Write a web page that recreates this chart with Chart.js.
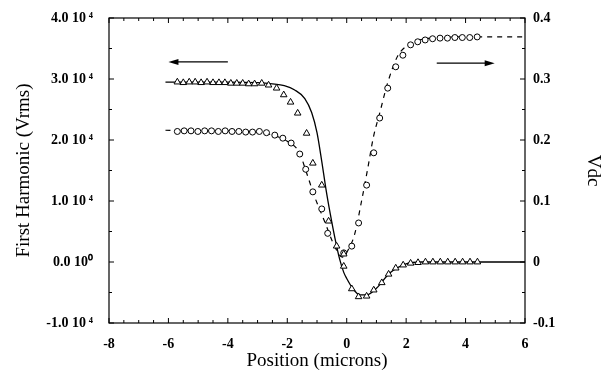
<!DOCTYPE html>
<html>
<head>
<meta charset="utf-8">
<script src="https://cdn.jsdelivr.net/npm/chart.js@4.4.1/dist/chart.umd.min.js"></script>
<style>
    html, body { margin: 0; padding: 0; background: #fff; }
    canvas { display: block; }
</style>
</head>
<body>
<canvas id="chart" width="604" height="385"></canvas>
<script>
/* ========================================
   First harmonic / Vdc vs. position
   ======================================== */

// Measured first harmonic (triangles), Vrms
const triX = [-5.7, -5.5, -5.3, -5.1, -4.9, -4.7, -4.5, -4.3, -4.1, -3.9, -3.7, -3.5, -3.3, -3.1,
    -2.86, -2.63, -2.36, -2.12, -1.89, -1.65, -1.35, -1.14,
    -0.84, -0.61, -0.34, -0.1, -0.1,
    0.17, 0.4, 0.67, 0.91, 1.18, 1.41, 1.65, 1.9, 2.15,
    2.4, 2.65, 2.9, 3.15, 3.4, 3.65, 3.9, 4.15, 4.4];
const triY = [29500, 29400, 29500, 29500, 29400, 29500, 29400, 29400, 29400, 29300, 29300, 29300, 29200, 29200,
    29300, 29000, 28500, 27400, 26200, 24400, 21100, 16200,
    12600, 6700, 2600, 1300, -700,
    -4400, -5700, -5600, -4600, -3400, -2000, -1000, -500, -200,
    -100, 0, 0, 0, 0, 0, 0, 0, 0];

// Measured Vdc (circles), V
const circX = [-5.7, -5.47, -5.24, -5.01, -4.78, -4.55, -4.32, -4.09, -3.86, -3.63, -3.4, -3.17, -2.94,
    -2.7, -2.42, -2.15, -1.87, -1.58, -1.38, -1.14, -0.84, -0.64, -0.1,
    0.17, 0.4, 0.67, 0.91, 1.11, 1.38, 1.65, 1.89, 2.15,
    2.39, 2.64, 2.89, 3.14, 3.39, 3.64, 3.89, 4.14, 4.39];
const circY = [0.214, 0.215, 0.215, 0.214, 0.215, 0.215, 0.214, 0.215, 0.214, 0.214, 0.213, 0.213, 0.214,
    0.212, 0.208, 0.203, 0.195, 0.177, 0.152, 0.115, 0.087, 0.047, 0.015,
    0.026, 0.064, 0.126, 0.179, 0.236, 0.285, 0.320, 0.339, 0.356,
    0.361, 0.364, 0.366, 0.367, 0.367, 0.368, 0.368, 0.368, 0.369];

// Model curve for first harmonic (solid)
const fitHX = [-6.1, -4.0, -3.0, -2.5, -2.1, -1.75, -1.41, -1.18, -1.0, -0.84, -0.7, -0.55, -0.4, -0.24,
    -0.1, 0.0, 0.2, 0.44, 0.67, 1.0, 1.45, 2.0, 2.5, 3.5, 6.0];
const fitHY = [29500, 29500, 29400, 29200, 28900, 28200, 26800, 24500, 21200, 16500, 12000, 7800, 4000, 500,
    -1700, -2700, -4300, -5400, -5400, -4300, -1800, -300, 0, 0, 0];

// Model curve for Vdc (dashed)
const fitVX = [-6.1, -4.0, -3.0, -2.5, -2.0, -1.6, -1.35, -1.08, -0.74, -0.4, -0.15, 0.05, 0.27, 0.5,
    0.71, 0.9, 1.11, 1.38, 1.72, 2.12, 2.8, 4.0, 6.0];
const fitVY = [0.216, 0.215, 0.213, 0.208, 0.198, 0.18, 0.146, 0.107, 0.066, 0.025, 0.008, 0.02, 0.046, 0.10,
    0.154, 0.205, 0.244, 0.294, 0.338, 0.357, 0.367, 0.369, 0.369];

// Tick labels
const xTickLabels = ['-8', '-6', '-4', '-2', '0', '2', '4', '6'];
const yTickLabels = ['-1.0 10\u2009\u2074', '0.0 10\u2070', '1.0 10\u2009\u2074', '2.0 10\u2009\u2074', '3.0 10\u2009\u2074', '4.0 10\u2009\u2074'];
const y2TickLabels = ['-0.1', '0', '0.1', '0.2', '0.3', '0.4'];

// Direction arrows (data units: x, left axis)
const arrowLeft = { from: -4.0, to: -6.0, y: 32800 };
const arrowRight = { from: 3.03, to: 4.98, y: 32600 };

const SERIF = '"Liberation Serif", "Times New Roman", serif';
const toPoints = (xs, ys) => xs.map((x, i) => ({ x: x, y: ys[i] }));

// Fixed box sizes so the plot area lands where the original one is
function fixBox(scale, size) {
    if (scale.isHorizontal()) scale.height = size;
    else scale.width = size;
    scale.paddingTop = 0;
    scale.paddingBottom = 0;
    scale.paddingLeft = 0;
    scale.paddingRight = 0;
}

// Frame, inside ticks and arrows
const framePlugin = {
    id: 'framePlugin',
    afterDatasetsDraw(chart) {
        const { ctx, chartArea: a, scales } = chart;
        ctx.save();
        ctx.strokeStyle = '#000';
        ctx.lineWidth = 1.2;
        ctx.strokeRect(a.left, a.top, a.right - a.left, a.bottom - a.top);

        ctx.lineWidth = 1;
        ctx.beginPath();
        // x ticks, every 0.5, major every 2
        for (let i = 0; i <= 28; i++) {
            const v = -8 + i * 0.5;
            const px = scales.x.getPixelForValue(v);
            const len = i % 4 === 0 ? 5 : 3;
            ctx.moveTo(px, a.bottom); ctx.lineTo(px, a.bottom - len);
            ctx.moveTo(px, a.top); ctx.lineTo(px, a.top + len);
        }
        // y ticks, every 5000, major every 10000
        for (let i = 0; i <= 10; i++) {
            const v = -10000 + i * 5000;
            const py = scales.y.getPixelForValue(v);
            const len = i % 2 === 0 ? 5 : 3;
            ctx.moveTo(a.left, py); ctx.lineTo(a.left + len, py);
            ctx.moveTo(a.right, py); ctx.lineTo(a.right - len, py);
        }
        ctx.stroke();

        // arrows
        [arrowLeft, arrowRight].forEach(ar => {
            const x1 = scales.x.getPixelForValue(ar.from);
            const x2 = scales.x.getPixelForValue(ar.to);
            const py = scales.y.getPixelForValue(ar.y);
            const dir = Math.sign(x2 - x1);
            ctx.beginPath();
            ctx.lineWidth = 1.2;
            ctx.moveTo(x1, py);
            ctx.lineTo(x2 - dir * 6, py);
            ctx.stroke();
            ctx.beginPath();
            ctx.fillStyle = '#000';
            ctx.moveTo(x2, py);
            ctx.lineTo(x2 - dir * 10, py - 3);
            ctx.lineTo(x2 - dir * 10, py + 3);
            ctx.closePath();
            ctx.fill();
        });
        ctx.restore();
    }
};

new Chart(document.getElementById('chart'), {
    type: 'line',
    data: {
        datasets: [
            {
                label: 'First harmonic',
                data: toPoints(triX, triY),
                yAxisID: 'y',
                showLine: false,
                pointStyle: 'triangle',
                pointRadius: 3.8,
                pointBorderWidth: 1,
                pointBorderColor: '#000',
                pointBackgroundColor: '#fff',
                order: 1
            },
            {
                label: 'Vdc',
                data: toPoints(circX, circY),
                yAxisID: 'y2',
                showLine: false,
                pointStyle: 'circle',
                pointRadius: 3,
                pointBorderWidth: 1,
                pointBorderColor: '#000',
                pointBackgroundColor: '#fff',
                order: 1
            },
            {
                label: 'First harmonic fit',
                data: toPoints(fitHX, fitHY),
                yAxisID: 'y',
                borderColor: '#000',
                borderWidth: 1.3,
                pointRadius: 0,
                cubicInterpolationMode: 'monotone',
                order: 2
            },
            {
                label: 'Vdc fit',
                data: toPoints(fitVX, fitVY),
                yAxisID: 'y2',
                borderColor: '#000',
                borderWidth: 1.2,
                borderDash: [5, 5],
                pointRadius: 0,
                cubicInterpolationMode: 'monotone',
                order: 2
            }
        ]
    },
    options: {
        responsive: false,
        animation: false,
        layout: { padding: { top: 18, left: 0, right: 0, bottom: 0 } },
        plugins: {
            legend: { display: false },
            tooltip: { enabled: false }
        },
        scales: {
            x: {
                type: 'linear',
                min: -8,
                max: 6,
                grid: { display: false, drawTicks: false },
                border: { display: false },
                afterFit: (scale) => fixBox(scale, 62),
                ticks: {
                    stepSize: 2,
                    padding: 13,
                    color: '#000',
                    font: { family: SERIF, size: 14, weight: 'bold' },
                    callback: (value, index) => xTickLabels[index]
                },
                title: {
                    display: true,
                    text: 'Position (microns)',
                    color: '#000',
                    padding: { top: 0, bottom: 13 },
                    font: { family: SERIF, size: 19 }
                }
            },
            y: {
                type: 'linear',
                position: 'left',
                min: -10000,
                max: 40000,
                grid: { display: false, drawTicks: false },
                border: { display: false },
                afterFit: (scale) => fixBox(scale, 109),
                ticks: {
                    stepSize: 10000,
                    padding: 16,
                    color: '#000',
                    font: { family: SERIF, size: 14, weight: 'bold' },
                    callback: (value, index) => yTickLabels[index]
                },
                title: {
                    display: true,
                    text: 'First Harmonic (Vrms)',
                    color: '#000',
                    padding: { top: 13, bottom: 0 },
                    font: { family: SERIF, size: 19 }
                }
            },
            y2: {
                type: 'linear',
                position: 'right',
                min: -0.1,
                max: 0.4,
                grid: { display: false, drawTicks: false },
                border: { display: false },
                afterFit: (scale) => fixBox(scale, 79),
                ticks: {
                    stepSize: 0.1,
                    padding: 8,
                    color: '#000',
                    font: { family: SERIF, size: 14, weight: 'bold' },
                    callback: (value, index) => y2TickLabels[index]
                },
                title: {
                    display: true,
                    text: 'Vdc',
                    color: '#000',
                    padding: { top: 0, bottom: 0 },
                    font: { family: SERIF, size: 19 }
                }
            }
        }
    },
    plugins: [framePlugin]
});
</script>
</body>
</html>
